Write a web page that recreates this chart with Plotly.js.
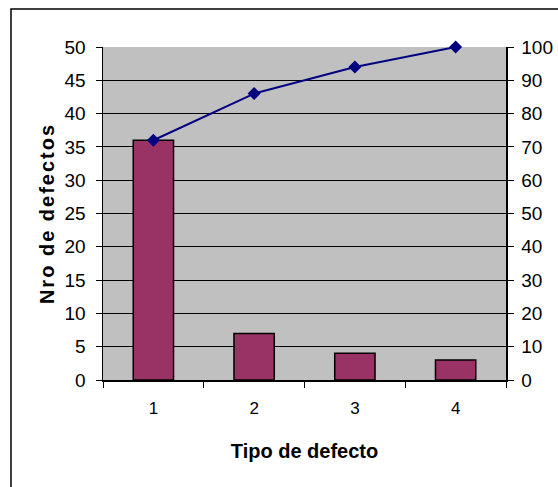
<!DOCTYPE html>
<html>
<head>
<meta charset="utf-8">
<script src="https://cdn.plot.ly/plotly-3.0.1.min.js"></script>
<style>
  html, body { margin: 0; padding: 0; background: #fff; }
  #chart { width: 558px; height: 487px; }
  .ytitle { letter-spacing: 2px; }
</style>
</head>
<body>
<div id="chart"></div>
<script>
const categories = ['1', '2', '3', '4'];
const defectCounts = [36, 7, 4, 3];
const cumulativePercent = [72, 86, 94, 100];
const leftTicks = [0, 5, 10, 15, 20, 25, 30, 35, 40, 45, 50];
const rightTicks = [0, 10, 20, 30, 40, 50, 60, 70, 80, 90, 100];

const W = 558, H = 487;
const M = { l: 103, r: 52, t: 47, b: 107 };
const pw = W - M.l - M.r, ph = H - M.t - M.b;

const font = 'Liberation Sans, Arial, sans-serif';

const bars = {
  type: 'bar',
  x: categories,
  y: defectCounts,
  width: 0.4,
  marker: { color: '#993366', line: { color: '#000000', width: 1.5 } },
  showlegend: false
};

const line = {
  type: 'scatter',
  mode: 'lines+markers',
  x: categories,
  y: cumulativePercent,
  yaxis: 'y2',
  cliponaxis: false,
  line: { color: '#000080', width: 2 },
  marker: { symbol: 'diamond', size: 10, color: '#000080' },
  showlegend: false
};

const layout = {
  width: W,
  height: H,
  margin: M,
  paper_bgcolor: '#ffffff',
  plot_bgcolor: '#c0c0c0',
  font: { family: font, color: '#000000' },
  xaxis: {
    type: 'category',
    tickson: 'boundaries',
    ticks: 'outside',
    ticklen: 6,
    tickcolor: '#000',
    tickwidth: 1,
    ticklabelstandoff: 12,
    showline: true,
    linecolor: '#000',
    linewidth: 1.5,
    showgrid: false,
    tickfont: { size: 17, family: font },
    title: { text: 'Tipo de defecto', font: { size: 20, family: font, weight: 'bold' }, standoff: 27 },
    automargin: false
  },
  xaxis2: {
    overlaying: 'x',
    anchor: 'y',
    side: 'bottom',
    range: [0.5, 4.5],
    tickvals: [1.5, 2.5, 3.5],
    ticks: 'inside',
    ticklen: 6,
    tickcolor: '#000',
    tickwidth: 1,
    showticklabels: false,
    showgrid: false,
    showline: false,
    zeroline: false,
    automargin: false
  },
  yaxis: {
    range: [0, 50],
    tickvals: leftTicks,
    ticks: 'outside',
    ticklen: 6,
    tickcolor: '#000',
    ticklabelstandoff: 6,
    showline: true,
    linecolor: '#000',
    linewidth: 1.5,
    showgrid: true,
    gridcolor: '#000000',
    gridwidth: 1,
    zeroline: false,
    tickfont: { size: 19, family: font },
    title: { text: 'Nro de defectos', font: { size: 20, family: font, weight: 'bold' }, standoff: 4 },
    automargin: false
  },
  yaxis2: {
    overlaying: 'y',
    side: 'right',
    range: [0, 100],
    tickvals: rightTicks,
    ticks: 'outside',
    ticklen: 6,
    tickcolor: '#000',
    ticklabelstandoff: 4,
    showline: true,
    linecolor: '#000',
    linewidth: 1.5,
    showgrid: false,
    zeroline: false,
    tickfont: { size: 19, family: font },
    automargin: false
  },
  shapes: [{
    type: 'rect',
    xref: 'paper', yref: 'paper',
    x0: (11 - M.l) / pw, x1: (W + 20 - M.l) / pw,
    y0: -(H + 20 - M.t - ph) / ph, y1: (M.t + ph - 9) / ph,
    line: { color: '#000', width: 1.5 },
    fillcolor: 'rgba(0,0,0,0)'
  }]
};

Plotly.newPlot('chart', [bars, line], layout, { displayModeBar: false, staticPlot: true });
</script>
</body>
</html>
